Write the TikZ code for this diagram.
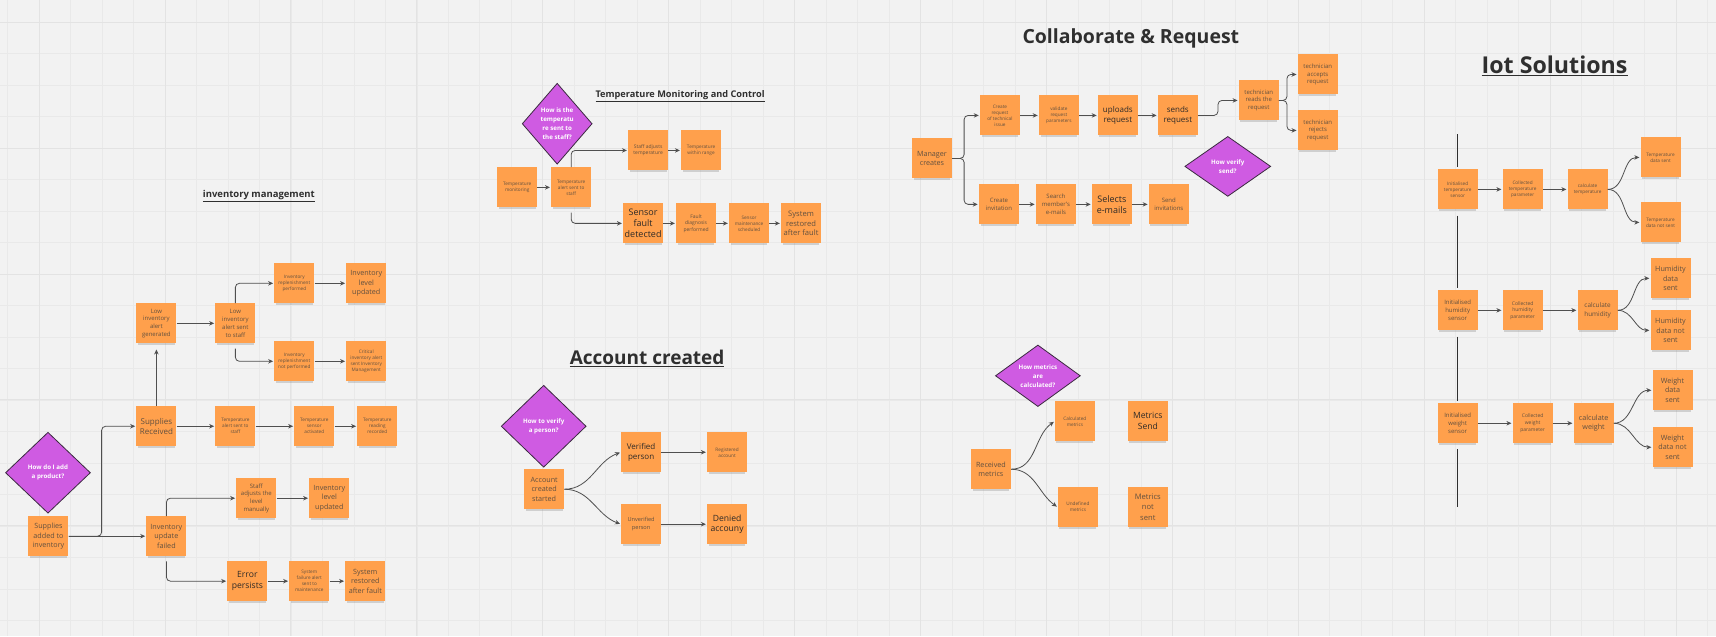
\documentclass[tikz,border=0pt]{standalone}
\usepackage{fontspec}
\setmainfont{Open Sans}
\usetikzlibrary{arrows.meta,shapes.geometric,shadows,positioning}
\definecolor{board}{HTML}{F2F2F2}
\definecolor{gridminor}{HTML}{E9E9E9}
\definecolor{gridmajor}{HTML}{E3E3E3}
\definecolor{notefill}{HTML}{FFA04C}
\definecolor{notetext}{HTML}{62503F}
\definecolor{darktext}{HTML}{2E2A27}
\definecolor{diafill}{HTML}{CF5BE2}
\definecolor{diaborder}{HTML}{3B2A40}
\definecolor{linkgrey}{HTML}{4F4F4F}
\definecolor{titlegrey}{HTML}{2F2F2F}

\begin{document}
\begin{tikzpicture}[x=1pt,y=1pt,
	note/.style = {fill=notefill, minimum size=40pt, inner sep=0pt, align=center, text=notetext,
		font=\fontsize{4.7}{6}\selectfont,
		drop shadow={shadow scale=.92, shadow xshift=0pt, shadow yshift=-3.5pt, opacity=.3}},
	snote/.style = {note, font=\fontsize{6}{7.8}\selectfont},
	mnote/.style = {note, font=\fontsize{7.2}{9.6}\selectfont},
	bnote/.style = {note, text=darktext, font=\fontsize{8.6}{11}\selectfont},
	decision/.style = {diamond, draw=diaborder, line width=.8pt, fill=diafill, text=white,
		font=\bfseries\fontsize{6.2}{9}\selectfont, align=center, inner sep=0pt},
	link/.style = {draw=linkgrey, line width=.8pt, rounded corners=4pt, shorten >=1pt,
		-{Stealth[length=5pt,width=4.5pt]}},
	spine/.style = {draw=titlegrey, line width=.9pt},
	heading/.style = {text=titlegrey, font=\bfseries\fontsize{9.5}{11}\selectfont}]

	\fill[board] (0,0) rectangle (1716,-636);
	\foreach \gx in {7.1,38.6,...,1716} \draw[gridminor, line width=.7pt] (\gx,0) -- (\gx,-636);
	\foreach \gy in {21.7,53.2,...,636} \draw[gridminor, line width=.7pt] (0,-\gy) -- (1716,-\gy);
	\foreach \gx in {38.6,164.6,...,1716} \draw[gridmajor, line width=1pt] (\gx,0) -- (\gx,-636);
	\foreach \gy in {21.7,147.7,...,636} \draw[gridmajor, line width=1pt] (0,-\gy) -- (1716,-\gy);
	\useasboundingbox (0,0) rectangle (1716,-636);

	% inventory
	\node[heading] (invtitle) at (258.5,-196) {\underline{inventory management}};
	\node[decision, minimum width=85pt, minimum height=81pt] (addq) at (47.5,-472.5) {How do I add\\a product?};
	\node[mnote] (added) at (48,-536) {Supplies\\added to\\inventory};
	\node[mnote, font=\fontsize{8}{10.4}\selectfont] (recv) at (156,-426) {Supplies\\Received};
	\node[snote] (gen) at (156,-323) {Low\\inventory\\alert\\generated};
	\node[snote] (lsent) at (235,-323) {Low\\inventory\\alert sent\\to staff};
	\node[note] (rperf) at (294,-283) {Inventory\\replenishment\\performed};
	\node[mnote] (lvlA) at (366,-283) {Inventory\\level\\updated};
	\node[note] (rnot) at (294,-361) {Inventory\\replenishment\\not performed};
	\node[note] (crit) at (366,-361) {Critical\\inventory alert\\sent Inventory\\Management};
	\node[note] (talert) at (235,-426) {Temperature\\alert sent to\\staff};
	\node[note] (tsensor) at (314,-426) {Temperature\\sensor\\activated};
	\node[note] (tread) at (377,-426) {Temperature\\reading\\recorded};
	\node[mnote] (failed) at (166,-536) {Inventory\\update\\failed};
	\node[snote] (manual) at (256,-498) {Staff\\adjusts the\\level\\manually};
	\node[mnote] (lvlB) at (329,-498) {Inventory\\level\\updated};
	\node[bnote] (errp) at (247,-581) {Error\\persists};
	\node[note] (sfail) at (309,-581) {System\\failure alert\\sent to\\maintenance};
	\node[mnote] (srest) at (365,-581) {System\\restored\\after fault};

	\draw[link] (added.east) -- ++(33,0) |- (recv.west);
	\draw[link] (added) -- (failed);
	\draw[link, shorten >=6pt] (recv) -- (gen);
	\draw[link] (gen) -- (lsent);
	\draw[link] (lsent.north) |- (rperf.west);
	\draw[link, shorten <=5pt] (lsent.south) |- (rnot.west);
	\draw[link] (rperf) -- (lvlA);
	\draw[link] (rnot) -- (crit);
	\draw[link] (recv) -- (talert);
	\draw[link] (talert) -- (tsensor);
	\draw[link] (tsensor) -- (tread);
	\draw[link] (failed.north) |- (manual.west);
	\draw[link] (manual) -- (lvlB);
	\draw[link, shorten <=5pt] (failed.south) |- (errp.west);
	\draw[link] (errp) -- (sfail);
	\draw[link] (sfail) -- (srest);

	% temperature
	\node[heading, font=\bfseries\fontsize{9.2}{10.6}\selectfont] (temptitle) at (680,-96) {\underline{Temperature Monitoring and Control}};
	\node[decision, minimum width=70pt, minimum height=81pt] (tempq) at (557,-123.3) {How is the\\temperatu\\re sent to\\the staff?};
	\node[note] (tmon) at (517,-187) {Temperature\\monitoring};
	\node[note] (tsent) at (571,-187) {Temperature\\alert sent to\\staff};
	\node[note, font=\fontsize{5}{6.4}\selectfont] (sadj) at (648,-150) {Staff adjusts\\temperature};
	\node[note] (trange) at (701,-150) {Temperature\\within range};
	\node[bnote, font=\fontsize{9}{11.4}\selectfont] (sfault) at (643,-223) {Sensor\\fault\\detected};
	\node[note, font=\fontsize{5}{6.6}\selectfont] (fdiag) at (696,-223) {Fault\\diagnosis\\performed};
	\node[note] (smaint) at (749,-223) {Sensor\\maintenance\\scheduled};
	\node[mnote, font=\fontsize{7.6}{9.6}\selectfont] (trest) at (801,-223) {System\\restored\\after fault};

	\draw[link] (tmon) -- (tsent);
	\draw[link] (tsent.north) |- (sadj.west);
	\draw[link] (sadj) -- (trange);
	\draw[link, shorten <=5pt] (tsent.south) |- (sfault.west);
	\draw[link] (sfault) -- (fdiag);
	\draw[link] (fdiag) -- (smaint);
	\draw[link] (smaint) -- (trest);

	% account
	\node[heading, font=\bfseries\fontsize{19}{22}\selectfont] (acctitle) at (647,-358) {\underline{Account created}};
	\node[decision, minimum width=85pt, minimum height=82pt] (verq) at (543.5,-426) {How to verify\\a person?};
	\node[mnote] (astart) at (544,-489) {Account\\created\\started};
	\node[bnote, font=\fontsize{8}{10.6}\selectfont] (vper) at (641,-452) {Verified\\person};
	\node[note] (regacc) at (727,-452) {Registered\\account};
	\node[snote, font=\fontsize{5.6}{7.4}\selectfont] (uper) at (641,-524) {Unverified\\person};
	\node[bnote, font=\fontsize{8.6}{10.8}\selectfont] (denied) at (727,-524) {Denied\\accouny};

	\draw[link] (astart.east) to[out=0,in=200] (vper.west);
	\draw[link] (astart.east) to[out=0,in=160] (uper.west);
	\draw[link] (vper) -- (regacc);
	\draw[link] (uper) -- (denied);

	% collaborate
	\node[heading, font=\bfseries\fontsize{19.5}{22}\selectfont] (coltitle) at (1131,-38) {Collaborate \& Request};
	\node[mnote] (mgr) at (932,-158) {Manager\\creates};
	\node[note] (creq) at (1000,-115) {Create\\request\\of technical\\issue};
	\node[note] (vreq) at (1059,-115) {validate\\request\\parameters};
	\node[bnote, font=\fontsize{8}{10.6}\selectfont] (upl) at (1118,-115) {uploads\\request};
	\node[bnote, font=\fontsize{8}{10.6}\selectfont] (sendr) at (1178,-115) {sends\\request};
	\node[snote] (treads) at (1259,-100) {technician\\reads the\\request};
	\node[snote] (tacc) at (1318,-74) {technician\\accepts\\request};
	\node[snote] (trej) at (1318,-130) {technician\\rejects\\request};
	\node[snote] (cinv) at (999,-204) {Create\\invitation};
	\node[snote] (smail) at (1056,-204) {Search\\member's\\e-mails};
	\node[bnote, font=\fontsize{9}{11.4}\selectfont] (selm) at (1112,-204) {Selects\\e-mails};
	\node[snote] (sinv) at (1169,-204) {Send\\invitations};
	\node[decision, minimum width=86pt, minimum height=60pt] (sendq) at (1228,-166) {How verify\\send?};

	\draw[link] (mgr.east) -- ++(12,0) |- (creq.west);
	\draw[link] (mgr.east) -- ++(12,0) |- (cinv.west);
	\draw[link] (creq) -- (vreq);
	\draw[link] (vreq) -- (upl);
	\draw[link] (upl) -- (sendr);
	\draw[link] (sendr.east) -- ++(20,0) |- (treads.west);
	\draw[link] (treads.east) -- ++(8,0) |- (tacc.west);
	\draw[link] (treads.east) -- ++(8,0) |- (trej.west);
	\draw[link] (cinv) -- (smail);
	\draw[link] (smail) -- (selm);
	\draw[link] (selm) -- (sinv);

	% metrics
	\node[decision, minimum width=85pt, minimum height=61pt] (metq) at (1038,-375.5) {How metrics\\are\\calculated?};
	\node[mnote] (recm) at (991,-469) {Received\\metrics};
	\node[note] (calcm) at (1075,-421) {Calculated\\metrics};
	\node[bnote] (msend) at (1148,-421) {Metrics\\Send};
	\node[note] (undm) at (1078,-507) {Undefined\\metrics};
	\node[mnote, font=\fontsize{7.6}{10.4}\selectfont] (mnots) at (1148,-507) {Metrics\\not\\sent};

	\draw[link] (recm.east) to[out=0,in=215] (calcm.west);
	\draw[link] (recm.east) to[out=0,in=145] (undm.west);

	% iot
	\node[heading, font=\bfseries\fontsize{23.2}{27}\selectfont] (iottitle) at (1555,-65) {\underline{Iot Solutions}};
	\coordinate (iottop) at (1458,-134);
	\coordinate (iotbot) at (1458,-507);
	\node[note] (tsens) at (1458,-189) {Initialised\\temperature\\sensor};
	\node[note] (tcol) at (1523,-189) {Collected\\temperature\\parameter};
	\node[note] (tcal) at (1588,-189) {calculate\\temperature};
	\node[note] (tds) at (1661,-157) {Temperature\\data sent};
	\node[note] (tdn) at (1661,-222) {Temperature\\data not sent};
	\node[snote] (hsens) at (1458,-310) {Initialised\\humidity\\sensor};
	\node[note, font=\fontsize{5}{6.6}\selectfont] (hcol) at (1523,-310) {Collected\\humidity\\parameter};
	\node[snote, font=\fontsize{6.4}{8.4}\selectfont] (hcal) at (1598,-310) {calculate\\humidity};
	\node[mnote] (hds) at (1671,-278) {Humidity\\data\\sent};
	\node[mnote] (hdn) at (1671,-330) {Humidity\\data not\\sent};
	\node[snote] (wsens) at (1458,-423) {Initialised\\weight\\sensor};
	\node[note, font=\fontsize{5}{6.6}\selectfont] (wcol) at (1533,-423) {Collected\\weight\\parameter};
	\node[mnote] (wcal) at (1594,-423) {calculate\\weight};
	\node[mnote] (wds) at (1673,-390) {Weight\\data\\sent};
	\node[mnote] (wdn) at (1673,-447) {Weight\\data not\\sent};

	\draw[spine, shorten >=2pt] (iottop) -- (tsens.north);
	\draw[spine, shorten <=6pt, shorten >=2pt] (tsens.south) -- (hsens.north);
	\draw[spine, shorten <=6pt, shorten >=2pt] (hsens.south) -- (wsens.north);
	\draw[spine, shorten <=6pt] (wsens.south) -- (iotbot);
	\draw[link] (tsens) -- (tcol);
	\draw[link] (tcol) -- (tcal);
	\draw[link] (tcal.east) to[out=0,in=180] (tds.west);
	\draw[link] (tcal.east) to[out=0,in=180] (tdn.west);
	\draw[link] (hsens) -- (hcol);
	\draw[link] (hcol) -- (hcal);
	\draw[link] (hcal.east) to[out=0,in=180] (hds.west);
	\draw[link] (hcal.east) to[out=0,in=180] (hdn.west);
	\draw[link] (wsens) -- (wcol);
	\draw[link] (wcol) -- (wcal);
	\draw[link] (wcal.east) to[out=0,in=180] (wds.west);
	\draw[link] (wcal.east) to[out=0,in=180] (wdn.west);
\end{tikzpicture}
\end{document}
